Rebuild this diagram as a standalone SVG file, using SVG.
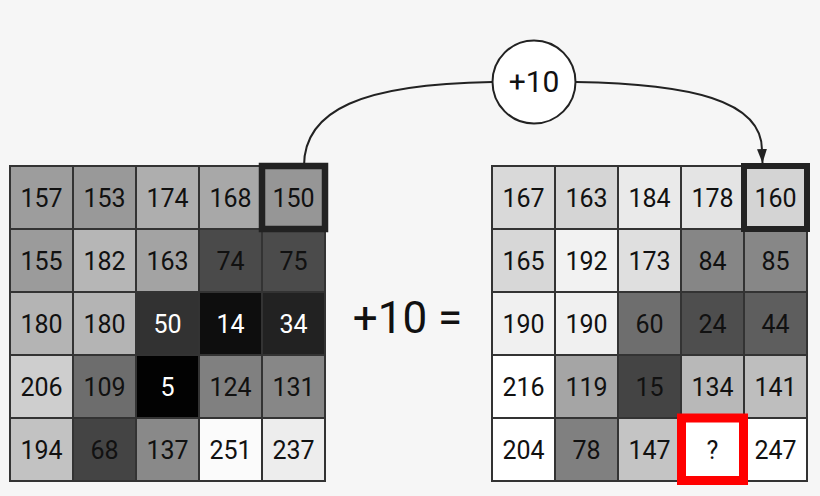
<svg xmlns="http://www.w3.org/2000/svg" width="820" height="496" viewBox="0 0 820 496">
<defs>
<style>
.c{stroke:#333;stroke-width:2}
.t{font-family:Roboto,"Liberation Sans",sans-serif;font-size:25px;text-anchor:middle;fill:#111}
.w{fill:#fff}
.ln{fill:none;stroke:#222;stroke-width:2}
</style>
<marker id="ah" viewBox="0 0 14 10" refX="14" refY="5" markerWidth="14" markerHeight="10" markerUnits="userSpaceOnUse" orient="auto">
<path d="M0,0 L14,5 L0,10 Z" fill="#222"/>
</marker>
</defs>
<rect width="820" height="496" fill="#f6f6f6"/>
<g id="connectors">
<path class="ln" d="M304,166 C304,110 362,84 492,82"/>
<path class="ln" d="M576,82 C690,84 762,100 762,150 L762.5,163" marker-end="url(#ah)"/>
</g>
<g id="left-grid">
<rect class="c" x="10" y="166" width="63" height="63" fill="rgb(157,157,157)"/><text class="t" x="41.5" y="207">157</text>
<rect class="c" x="73" y="166" width="63" height="63" fill="rgb(153,153,153)"/><text class="t" x="104.5" y="207">153</text>
<rect class="c" x="136" y="166" width="63" height="63" fill="rgb(174,174,174)"/><text class="t" x="167.5" y="207">174</text>
<rect class="c" x="199" y="166" width="63" height="63" fill="rgb(168,168,168)"/><text class="t" x="230.5" y="207">168</text>
<rect class="c" x="262" y="166" width="63" height="63" fill="rgb(150,150,150)"/><text class="t" x="293.5" y="207">150</text>
<rect class="c" x="10" y="229" width="63" height="63" fill="rgb(155,155,155)"/><text class="t" x="41.5" y="270">155</text>
<rect class="c" x="73" y="229" width="63" height="63" fill="rgb(182,182,182)"/><text class="t" x="104.5" y="270">182</text>
<rect class="c" x="136" y="229" width="63" height="63" fill="rgb(163,163,163)"/><text class="t" x="167.5" y="270">163</text>
<rect class="c" x="199" y="229" width="63" height="63" fill="rgb(74,74,74)"/><text class="t" x="230.5" y="270">74</text>
<rect class="c" x="262" y="229" width="63" height="63" fill="rgb(75,75,75)"/><text class="t" x="293.5" y="270">75</text>
<rect class="c" x="10" y="292" width="63" height="63" fill="rgb(180,180,180)"/><text class="t" x="41.5" y="333">180</text>
<rect class="c" x="73" y="292" width="63" height="63" fill="rgb(180,180,180)"/><text class="t" x="104.5" y="333">180</text>
<rect class="c" x="136" y="292" width="63" height="63" fill="rgb(50,50,50)"/><text class="t w" x="167.5" y="333">50</text>
<rect class="c" x="199" y="292" width="63" height="63" fill="rgb(14,14,14)"/><text class="t w" x="230.5" y="333">14</text>
<rect class="c" x="262" y="292" width="63" height="63" fill="rgb(34,34,34)"/><text class="t w" x="293.5" y="333">34</text>
<rect class="c" x="10" y="355" width="63" height="63" fill="rgb(206,206,206)"/><text class="t" x="41.5" y="396">206</text>
<rect class="c" x="73" y="355" width="63" height="63" fill="rgb(109,109,109)"/><text class="t" x="104.5" y="396">109</text>
<rect class="c" x="136" y="355" width="63" height="63" fill="rgb(2,2,2)"/><text class="t w" x="167.5" y="396">5</text>
<rect class="c" x="199" y="355" width="63" height="63" fill="rgb(128,128,128)"/><text class="t" x="230.5" y="396">124</text>
<rect class="c" x="262" y="355" width="63" height="63" fill="rgb(135,135,135)"/><text class="t" x="293.5" y="396">131</text>
<rect class="c" x="10" y="418" width="63" height="63" fill="rgb(194,194,194)"/><text class="t" x="41.5" y="459">194</text>
<rect class="c" x="73" y="418" width="63" height="63" fill="rgb(68,68,68)"/><text class="t" x="104.5" y="459">68</text>
<rect class="c" x="136" y="418" width="63" height="63" fill="rgb(137,137,137)"/><text class="t" x="167.5" y="459">137</text>
<rect class="c" x="199" y="418" width="63" height="63" fill="rgb(251,251,251)"/><text class="t" x="230.5" y="459">251</text>
<rect class="c" x="262" y="418" width="63" height="63" fill="rgb(237,237,237)"/><text class="t" x="293.5" y="459">237</text>
<rect x="262" y="166" width="63" height="63" fill="none" stroke="#222" stroke-width="6.5"/>
</g>
<g id="right-grid">
<rect class="c" x="492" y="166" width="63" height="63" fill="rgb(217,217,217)"/><text class="t" x="523.5" y="207">167</text>
<rect class="c" x="555" y="166" width="63" height="63" fill="rgb(213,213,213)"/><text class="t" x="586.5" y="207">163</text>
<rect class="c" x="618" y="166" width="63" height="63" fill="rgb(234,234,234)"/><text class="t" x="649.5" y="207">184</text>
<rect class="c" x="681" y="166" width="63" height="63" fill="rgb(228,228,228)"/><text class="t" x="712.5" y="207">178</text>
<rect class="c" x="744" y="166" width="63" height="63" fill="rgb(212,212,212)"/><text class="t" x="775.5" y="207">160</text>
<rect class="c" x="492" y="229" width="63" height="63" fill="rgb(215,215,215)"/><text class="t" x="523.5" y="270">165</text>
<rect class="c" x="555" y="229" width="63" height="63" fill="rgb(242,242,242)"/><text class="t" x="586.5" y="270">192</text>
<rect class="c" x="618" y="229" width="63" height="63" fill="rgb(223,223,223)"/><text class="t" x="649.5" y="270">173</text>
<rect class="c" x="681" y="229" width="63" height="63" fill="rgb(134,134,134)"/><text class="t" x="712.5" y="270">84</text>
<rect class="c" x="744" y="229" width="63" height="63" fill="rgb(135,135,135)"/><text class="t" x="775.5" y="270">85</text>
<rect class="c" x="492" y="292" width="63" height="63" fill="rgb(240,240,240)"/><text class="t" x="523.5" y="333">190</text>
<rect class="c" x="555" y="292" width="63" height="63" fill="rgb(240,240,240)"/><text class="t" x="586.5" y="333">190</text>
<rect class="c" x="618" y="292" width="63" height="63" fill="rgb(110,110,110)"/><text class="t" x="649.5" y="333">60</text>
<rect class="c" x="681" y="292" width="63" height="63" fill="rgb(78,78,78)"/><text class="t" x="712.5" y="333">24</text>
<rect class="c" x="744" y="292" width="63" height="63" fill="rgb(94,94,94)"/><text class="t" x="775.5" y="333">44</text>
<rect class="c" x="492" y="355" width="63" height="63" fill="rgb(255,255,255)"/><text class="t" x="523.5" y="396">216</text>
<rect class="c" x="555" y="355" width="63" height="63" fill="rgb(165,165,165)"/><text class="t" x="586.5" y="396">119</text>
<rect class="c" x="618" y="355" width="63" height="63" fill="rgb(68,68,68)"/><text class="t" x="649.5" y="396">15</text>
<rect class="c" x="681" y="355" width="63" height="63" fill="rgb(184,184,184)"/><text class="t" x="712.5" y="396">134</text>
<rect class="c" x="744" y="355" width="63" height="63" fill="rgb(190,190,190)"/><text class="t" x="775.5" y="396">141</text>
<rect class="c" x="492" y="418" width="63" height="63" fill="rgb(255,255,255)"/><text class="t" x="523.5" y="459">204</text>
<rect class="c" x="555" y="418" width="63" height="63" fill="rgb(128,128,128)"/><text class="t" x="586.5" y="459">78</text>
<rect class="c" x="618" y="418" width="63" height="63" fill="rgb(196,196,196)"/><text class="t" x="649.5" y="459">147</text>
<rect class="c" x="681" y="418" width="63" height="63" fill="#fff"/><text class="t" x="712.5" y="459">?</text>
<rect class="c" x="744" y="418" width="63" height="63" fill="#fff"/><text class="t" x="775.5" y="459">247</text>
<rect x="744" y="166" width="63" height="63" fill="none" stroke="#222" stroke-width="6"/>
<rect x="681.5" y="418" width="62" height="62.5" fill="none" stroke="#ff0000" stroke-width="9"/>
</g>
<g id="op-node">
<circle cx="534" cy="82" r="41.5" fill="#fff" stroke="#222" stroke-width="2"/>
<text x="534" y="92" font-family="Roboto,'Liberation Sans',sans-serif" font-size="30" text-anchor="middle" fill="#111">+10</text>
</g>
<g id="op-label">
<text x="407.5" y="333" font-family="Roboto,'Liberation Sans',sans-serif" font-size="44" text-anchor="middle" fill="#111">+10 =</text>
</g>
</svg>
